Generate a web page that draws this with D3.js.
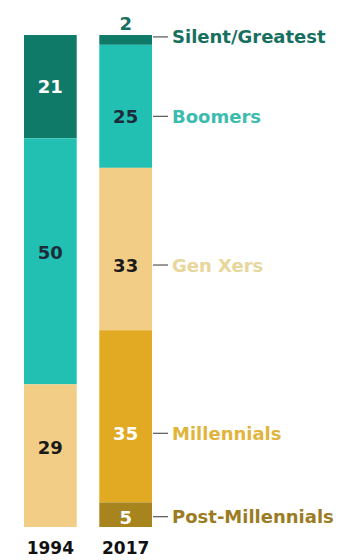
<!doctype html>
<html lang="en">
<head>
  <style>
    body { margin: 0; background: #fff; }
    text { font-family: "DejaVu Sans", sans-serif; font-weight: 700; }
  </style>
  <script src="https://d3js.org/d3.v7.min.js"></script>
</head>
<body>
  <script>
    const years = ["1994", "2017"];
    const generations = ["Silent/Greatest", "Boomers", "Gen Xers", "Millennials", "Post-Millennials"];
    const shares1994 = [21, 50, 29, 0, 0];
    const shares2017 = [2, 25, 33, 35, 5];

    const fills = ["#0f7a68", "#22c0b2", "#f1cd86", "#e2a923", "#a8841f"];
    const labelColors = ["#17705f", "#3cbcae", "#e8d69a", "#e2b43c", "#9c7c22"];
    const valueColors = ["#ffffff", "#1d2a3a", "#1a1a1a", "#ffffff", "#ffffff"];

    const width = 353, height = 560;
    const svg = d3.select("body").append("svg")
        .attr("width", width)
        .attr("height", height);

    const x = d3.scaleBand()
        .domain(years)
        .range([24, 152])
        .paddingInner(0.3)
        .paddingOuter(0);

    const y = d3.scaleLinear()
        .domain([0, 100])
        .range([35, 527]);

    // labels in the original are not exactly centred; small pixel nudges
    const nudge = { "1994": [-1, -9, -9], "2017": [-3, 10, 16, 17, 2] };

    const rows = years.map((yr, i) => {
      const vals = i === 0 ? shares1994 : shares2017;
      let acc = 0;
      const out = [];
      vals.forEach((v, j) => {
        if (v > 0) out.push({ year: yr, gen: j, value: v, y0: acc, y1: acc + v });
        acc += v;
      });
      out.forEach((d, k) => { d.ly = y((d.y0 + d.y1) / 2) + nudge[yr][k]; });
      return out;
    });

    const segs = rows.flat();

    svg.selectAll("rect.seg")
        .data(segs)
        .enter()
        .append("rect")
        .attr("class", "seg")
        .attr("x", d => x(d.year))
        .attr("y", d => y(d.y0))
        .attr("width", x.bandwidth())
        .attr("height", d => y(d.y1) - y(d.y0))
        .attr("fill", d => fills[d.gen]);

    // values inside segments (the 2% slice gets its label above the bar)
    svg.selectAll("text.val")
        .data(segs)
        .enter()
        .append("text")
        .attr("class", "val")
        .attr("x", d => x(d.year) + x.bandwidth() / 2)
        .attr("y", d => d.value < 4 ? y(d.y0) - 5 : d.ly + 7)
        .attr("text-anchor", "middle")
        .attr("font-size", 18)
        .attr("fill", d => d.value < 4 ? labelColors[d.gen] : valueColors[d.gen])
        .text(d => d.value);

    // generation labels to the right of 2017 bar
    const right = x("2017") + x.bandwidth();
    const lab = svg.selectAll("g.lab")
        .data(rows[1])
        .enter()
        .append("g")
        .attr("class", "lab")
        .attr("transform", d => `translate(${right},${d.ly})`);

    lab.append("line")
        .attr("x1", 1).attr("x2", 16)
        .attr("stroke", "#555")
        .attr("stroke-width", 1.2);

    lab.append("text")
        .attr("x", 20)
        .attr("y", 6.5)
        .attr("font-size", 18)
        .attr("fill", d => labelColors[d.gen])
        .text(d => generations[d.gen]);

    svg.selectAll("text.year")
        .data(years)
        .enter()
        .append("text")
        .attr("class", "year")
        .attr("x", d => x(d) + x.bandwidth() / 2)
        .attr("y", 554)
        .attr("text-anchor", "middle")
        .attr("font-size", 17)
        .attr("fill", "#111")
        .text(d => d);
  </script>
</body>
</html>
